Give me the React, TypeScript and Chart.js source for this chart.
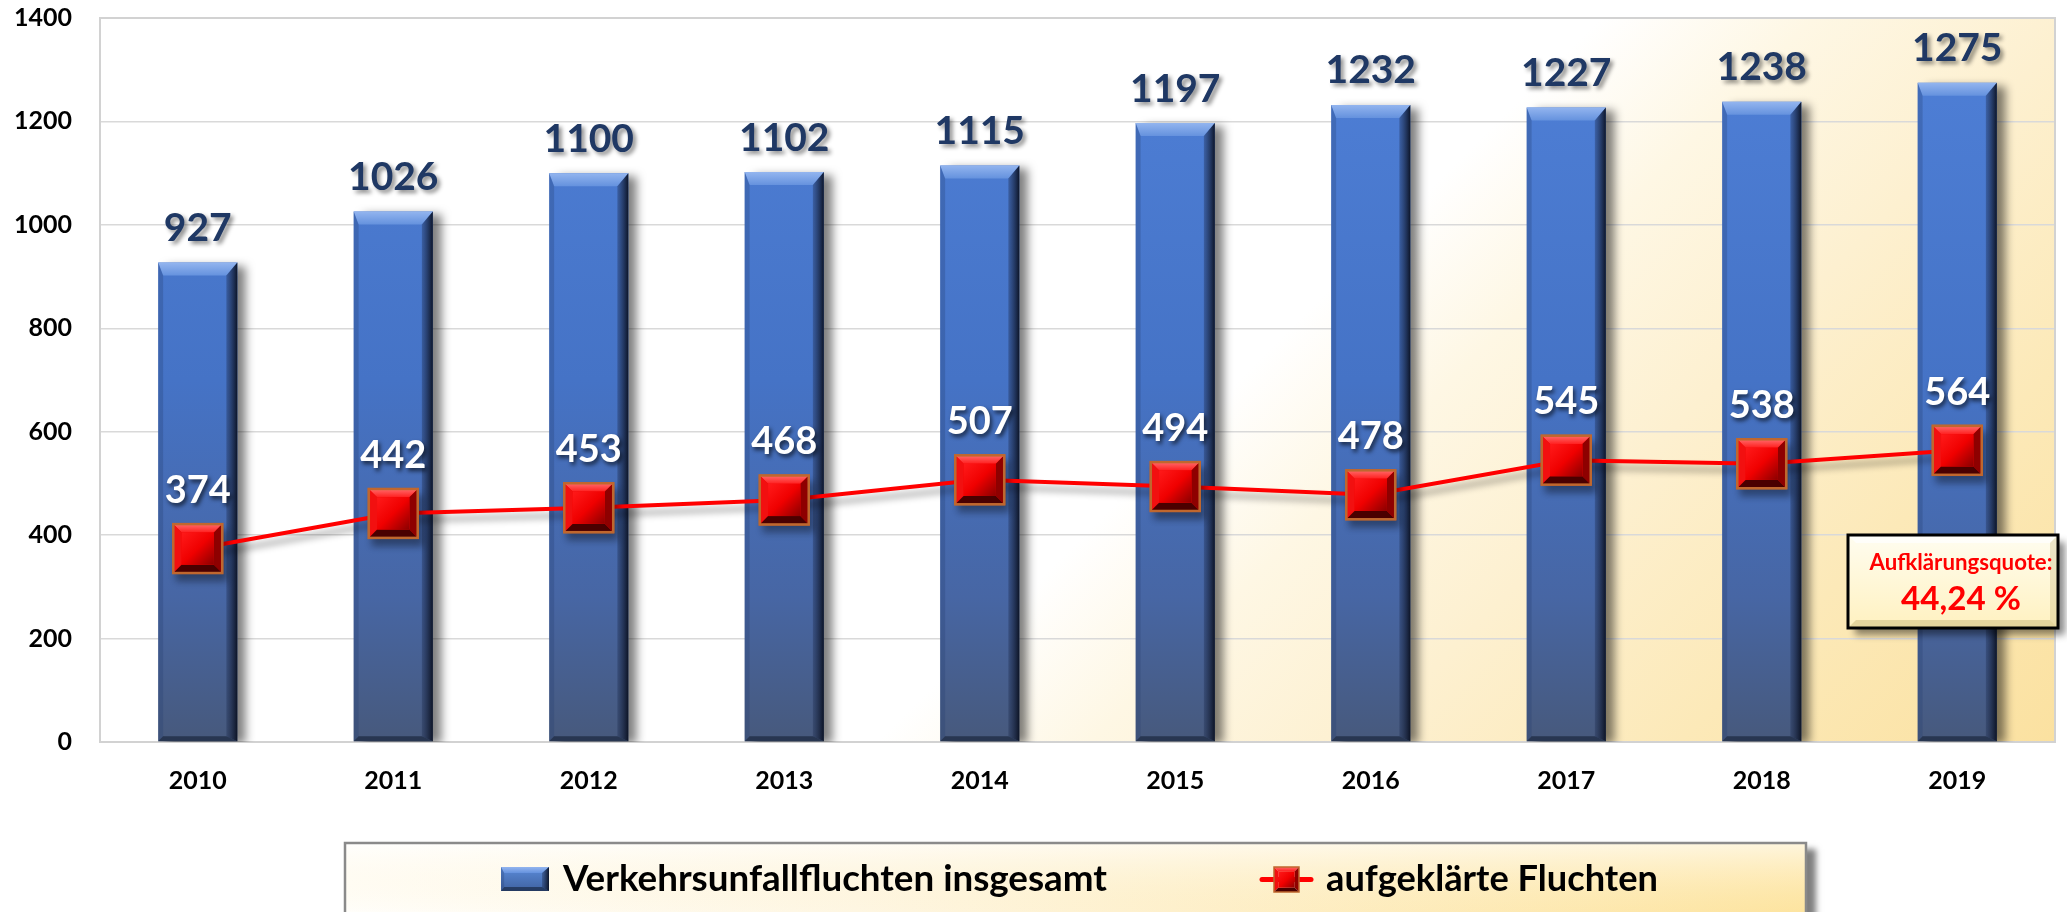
import React, { useEffect, useRef } from "react";
import { Chart, registerables } from "chart.js";

Chart.register(...registerables);

// ---------- data ----------
const years = ["2010", "2011", "2012", "2013", "2014", "2015", "2016", "2017", "2018", "2019"];
const totalValues = [927, 1026, 1100, 1102, 1115, 1197, 1232, 1227, 1238, 1275];
const solvedValues = [374, 442, 453, 468, 507, 494, 478, 545, 538, 564];
const yMin = 0;
const yMax = 1400;
const yStep = 200;
const legendLabels = ["Verkehrsunfallfluchten insgesamt", "aufgeklärte Fluchten"];
const quoteTitle = "Aufklärungsquote:";
const quoteValue = "44,24 %";

const FONT = "Lato, 'Noto Sans', sans-serif";

function fitFont(ctx: CanvasRenderingContext2D, text: string, target: number, base: number) {
  ctx.font = `bold ${base}px ${FONT}`;
  const w = ctx.measureText(text).width;
  const size = w > 0 ? (base * target) / w : base;
  return `bold ${size.toFixed(2)}px ${FONT}`;
}

function shadowText(
  ctx: CanvasRenderingContext2D,
  text: string,
  x: number,
  y: number,
  font: string,
  color: string,
  shadow: string,
  ox: number,
  oy: number,
  blur: number,
  align: CanvasTextAlign = "center"
) {
  ctx.save();
  ctx.font = font;
  ctx.textAlign = align;
  ctx.textBaseline = "middle";
  ctx.shadowColor = shadow;
  ctx.shadowOffsetX = ox;
  ctx.shadowOffsetY = oy;
  ctx.shadowBlur = blur;
  ctx.fillStyle = color;
  ctx.fillText(text, x, y);
  ctx.restore();
}

function bevelBar(ctx: CanvasRenderingContext2D, x0: number, y0: number, x1: number, y1: number, tb: number, sb: number, bb: number) {
  const ls = sb * 0.45;
  ctx.save();
  let g = ctx.createLinearGradient(0, y0, 0, y0 + tb);
  g.addColorStop(0, "#93B5EF");
  g.addColorStop(1, "#6592DE");
  ctx.fillStyle = g;
  ctx.beginPath();
  ctx.moveTo(x0, y0);
  ctx.lineTo(x1, y0);
  ctx.lineTo(x1 - sb, y0 + tb);
  ctx.lineTo(x0 + ls, y0 + tb);
  ctx.closePath();
  ctx.fill();
  ctx.fillStyle = "rgba(35,60,110,0.28)";
  ctx.beginPath();
  ctx.moveTo(x0, y0);
  ctx.lineTo(x0 + ls, y0 + tb);
  ctx.lineTo(x0 + ls, y1 - bb);
  ctx.lineTo(x0, y1);
  ctx.closePath();
  ctx.fill();
  g = ctx.createLinearGradient(x1 - sb, 0, x1, 0);
  g.addColorStop(0, "rgba(30,45,80,0.35)");
  g.addColorStop(1, "rgba(10,16,32,0.95)");
  ctx.fillStyle = g;
  ctx.beginPath();
  ctx.moveTo(x1, y0);
  ctx.lineTo(x1, y1);
  ctx.lineTo(x1 - sb, y1 - bb);
  ctx.lineTo(x1 - sb, y0 + tb);
  ctx.closePath();
  ctx.fill();
  ctx.fillStyle = "rgba(15,25,45,0.55)";
  ctx.beginPath();
  ctx.moveTo(x0, y1);
  ctx.lineTo(x1, y1);
  ctx.lineTo(x1 - sb, y1 - bb);
  ctx.lineTo(x0 + ls, y1 - bb);
  ctx.closePath();
  ctx.fill();
  ctx.restore();
}

function bevelMarker(ctx: CanvasRenderingContext2D, cx: number, cy: number, s: number, lw: number) {
  const h = s / 2;
  const b = s * 0.17;
  const x0 = cx - h, y0 = cy - h, x1 = cx + h, y1 = cy + h;
  ctx.save();
  let g = ctx.createLinearGradient(0, y0, 0, y0 + b);
  g.addColorStop(0, "#FF6A6A");
  g.addColorStop(1, "#FF2020");
  ctx.fillStyle = g;
  ctx.beginPath();
  ctx.moveTo(x0, y0); ctx.lineTo(x1, y0); ctx.lineTo(x1 - b, y0 + b); ctx.lineTo(x0 + b, y0 + b); ctx.closePath(); ctx.fill();
  ctx.fillStyle = "#F21010";
  ctx.beginPath();
  ctx.moveTo(x0, y0); ctx.lineTo(x0 + b, y0 + b); ctx.lineTo(x0 + b, y1 - b); ctx.lineTo(x0, y1); ctx.closePath(); ctx.fill();
  ctx.fillStyle = "#8E0000";
  ctx.beginPath();
  ctx.moveTo(x1, y0); ctx.lineTo(x1, y1); ctx.lineTo(x1 - b, y1 - b); ctx.lineTo(x1 - b, y0 + b); ctx.closePath(); ctx.fill();
  ctx.fillStyle = "#4A0000";
  ctx.beginPath();
  ctx.moveTo(x0, y1); ctx.lineTo(x1, y1); ctx.lineTo(x1 - b, y1 - b); ctx.lineTo(x0 + b, y1 - b); ctx.closePath(); ctx.fill();
  g = ctx.createLinearGradient(x0 + b, y0 + b, x1 - b, y1 - b);
  g.addColorStop(0, "#FF1A1A");
  g.addColorStop(0.5, "#F00000");
  g.addColorStop(1, "#8A0000");
  ctx.fillStyle = g;
  ctx.fillRect(x0 + b, y0 + b, s - 2 * b, s - 2 * b);
  ctx.strokeStyle = "#C0672E";
  ctx.lineWidth = lw;
  ctx.strokeRect(x0, y0, s, s);
  ctx.restore();
}

const decorPlugin = {
  id: "decor",
  beforeDraw(chart: any) {
    const { ctx, chartArea: a, width, height } = chart;
    ctx.save();
    ctx.fillStyle = "#FFFFFF";
    ctx.fillRect(0, 0, width, height);
    const L = (a.right - a.left + (a.bottom - a.top)) / 2;
    const g = ctx.createLinearGradient(a.left, a.top, a.left + L, a.top + L);
    g.addColorStop(0, "#FFFFFF");
    g.addColorStop(0.56, "#FFFFFF");
    g.addColorStop(0.64, "#FEF7E4");
    g.addColorStop(0.74, "#FDF0D0");
    g.addColorStop(0.86, "#FCE9B8");
    g.addColorStop(1, "#FBE1A0");
    ctx.fillStyle = g;
    ctx.fillRect(a.left, a.top, a.right - a.left, a.bottom - a.top);
    ctx.restore();
  },
  beforeDatasetsDraw(chart: any) {
    const { ctx, chartArea: a } = chart;
    ctx.save();
    ctx.strokeStyle = "#D2D2D2";
    ctx.lineWidth = 2;
    ctx.strokeRect(a.left, a.top, a.right - a.left, a.bottom - a.top);
    ctx.restore();
  },
  beforeDatasetDraw(chart: any, args: any) {
    const ctx = chart.ctx;
    ctx.save();
    const type = chart.data.datasets[args.index].type;
    if (type === "bar") {
      ctx.shadowColor = "rgba(0,0,0,0.5)";
      ctx.shadowOffsetX = 9;
      ctx.shadowOffsetY = 3;
      ctx.shadowBlur = 9;
    } else {
      ctx.shadowColor = "rgba(0,0,0,0.38)";
      ctx.shadowOffsetX = 4;
      ctx.shadowOffsetY = 7;
      ctx.shadowBlur = 7;
    }
  },
  afterDatasetDraw(chart: any, args: any) {
    const ctx = chart.ctx;
    ctx.restore();
    const ds = chart.data.datasets[args.index];
    const meta = chart.getDatasetMeta(args.index);
    if (ds.type === "bar") {
      meta.data.forEach((el: any) => {
        const x0 = el.x - el.width / 2;
        const x1 = el.x + el.width / 2;
        bevelBar(ctx, x0, el.y, x1, el.base, 13, 11, 5);
      });
    } else {
      const s = 2 * Math.SQRT1_2 * ds.pointRadius;
      meta.data.forEach((el: any) => bevelMarker(ctx, el.x, el.y, s, 2.5));
    }
  },
  afterDraw(chart: any) {
    const ctx: CanvasRenderingContext2D = chart.ctx;
    const barIdx = chart.data.datasets.findIndex((d: any) => d.type === "bar");
    const lineIdx = chart.data.datasets.findIndex((d: any) => d.type === "line");
    const barMeta = chart.getDatasetMeta(barIdx);
    const lineMeta = chart.getDatasetMeta(lineIdx);

    barMeta.data.forEach((el: any, i: number) => {
      shadowText(ctx, String(chart.data.datasets[barIdx].data[i]), el.x, el.y - 34,
        `bold 39px ${FONT}`, "#1F3864", "rgba(0,0,0,0.45)", 3, 3, 4);
    });
    lineMeta.data.forEach((el: any, i: number) => {
      shadowText(ctx, String(chart.data.datasets[lineIdx].data[i]), el.x, el.y - 58,
        `bold 38px ${FONT}`, "#FFFFFF", "rgba(0,0,0,0.65)", 2, 3, 4);
    });

    // annotation box
    {
      const x0 = 1848, y0 = 535, w = 210, h = 93;
      ctx.save();
      ctx.shadowColor = "rgba(0,0,0,0.45)";
      ctx.shadowOffsetX = 7;
      ctx.shadowOffsetY = 7;
      ctx.shadowBlur = 7;
      const g = ctx.createLinearGradient(0, y0, 0, y0 + h);
      g.addColorStop(0, "#FFFDF0");
      g.addColorStop(1, "#FFF1C0");
      ctx.fillStyle = g;
      ctx.fillRect(x0, y0, w, h);
      ctx.restore();
      ctx.save();
      const b = 8;
      ctx.fillStyle = "rgba(255,255,255,0.7)";
      ctx.beginPath();
      ctx.moveTo(x0, y0); ctx.lineTo(x0 + w, y0); ctx.lineTo(x0 + w - b, y0 + b); ctx.lineTo(x0 + b, y0 + b); ctx.closePath(); ctx.fill();
      ctx.fillStyle = "rgba(180,160,90,0.35)";
      ctx.beginPath();
      ctx.moveTo(x0, y0 + h); ctx.lineTo(x0 + w, y0 + h); ctx.lineTo(x0 + w - b, y0 + h - b); ctx.lineTo(x0 + b, y0 + h - b); ctx.closePath(); ctx.fill();
      ctx.fillStyle = "rgba(180,160,90,0.25)";
      ctx.beginPath();
      ctx.moveTo(x0 + w, y0); ctx.lineTo(x0 + w, y0 + h); ctx.lineTo(x0 + w - b, y0 + h - b); ctx.lineTo(x0 + w - b, y0 + b); ctx.closePath(); ctx.fill();
      ctx.strokeStyle = "#000000";
      ctx.lineWidth = 3;
      ctx.strokeRect(x0, y0, w, h);
      ctx.restore();
      const cx = 1961;
      shadowText(ctx, quoteTitle, cx, 563, fitFont(ctx, quoteTitle, 183, 21), "#FF0000", "rgba(0,0,0,0)", 0, 0, 0);
      shadowText(ctx, quoteValue, cx, 599, fitFont(ctx, quoteValue, 120, 36), "#FF0000", "rgba(0,0,0,0)", 0, 0, 0);
    }

    // legend box
    {
      const x0 = 345, y0 = 843, w = 1461, h = 100;
      ctx.save();
      ctx.shadowColor = "rgba(0,0,0,0.5)";
      ctx.shadowOffsetX = 10;
      ctx.shadowOffsetY = 6;
      ctx.shadowBlur = 6;
      const g = ctx.createLinearGradient(x0, 0, x0 + w, 0);
      g.addColorStop(0, "#FFFEFA");
      g.addColorStop(0.35, "#FEF6E2");
      g.addColorStop(1, "#FDE4A0");
      ctx.fillStyle = g;
      ctx.fillRect(x0, y0, w, h);
      ctx.restore();
      ctx.save();
      const gv = ctx.createLinearGradient(0, y0, 0, 912);
      gv.addColorStop(0, "rgba(255,255,255,0.65)");
      gv.addColorStop(1, "rgba(255,240,200,0)");
      ctx.fillStyle = gv;
      ctx.fillRect(x0, y0, w, h);
      ctx.strokeStyle = "#8A8A8A";
      ctx.lineWidth = 2.5;
      ctx.strokeRect(x0, y0, w, h);
      ctx.restore();

      ctx.save();
      const bg = ctx.createLinearGradient(0, 867, 0, 891);
      bg.addColorStop(0, "#5A8AD8");
      bg.addColorStop(1, "#3F62A0");
      ctx.fillStyle = bg;
      ctx.fillRect(501, 867, 48, 24);
      ctx.restore();
      bevelBar(ctx, 501, 867, 549, 891, 6, 7, 4);
      shadowText(ctx, legendLabels[0], 563, 879, fitFont(ctx, legendLabels[0], 544, 34), "#000000",
        "rgba(0,0,0,0)", 0, 0, 0, "left");

      ctx.save();
      ctx.strokeStyle = "#FF0000";
      ctx.lineWidth = 5;
      ctx.lineCap = "round";
      ctx.beginPath();
      ctx.moveTo(1262, 879.5);
      ctx.lineTo(1311, 879.5);
      ctx.stroke();
      ctx.restore();
      bevelMarker(ctx, 1286.5, 879.5, 25, 1.5);
      shadowText(ctx, legendLabels[1], 1326, 879, fitFont(ctx, legendLabels[1], 332, 34), "#000000",
        "rgba(0,0,0,0)", 0, 0, 0, "left");
    }
  },
};

export default function App() {
  const canvasRef = useRef<HTMLCanvasElement | null>(null);

  useEffect(() => {
    const canvas = canvasRef.current;
    if (!canvas) return;
    const chart = new Chart(canvas, {
      type: "bar",
      data: {
        labels: years,
        datasets: [
          {
            type: "line",
            label: legendLabels[1],
            data: solvedValues,
            borderColor: "#FF0000",
            borderWidth: 4,
            pointStyle: "rect",
            pointRadius: 34.6,
            pointHoverRadius: 34.6,
            pointBackgroundColor: "#FF0000",
            pointBorderColor: "#C0672E",
            pointBorderWidth: 2,
            tension: 0,
            order: 0,
          } as any,
          {
            type: "bar",
            label: legendLabels[0],
            data: totalValues,
            backgroundColor: (c: any) => {
              const a = c.chart.chartArea;
              if (!a) return "#4472C4";
              const g = c.chart.ctx.createLinearGradient(0, a.top, 0, a.bottom);
              g.addColorStop(0, "#4F80D8");
              g.addColorStop(0.5, "#4573C6");
              g.addColorStop(0.8, "#4766A4");
              g.addColorStop(1, "#47597C");
              return g;
            },
            borderWidth: 0,
            barPercentage: 0.405,
            categoryPercentage: 1,
            order: 1,
          } as any,
        ],
      },
      options: {
        responsive: false,
        animation: false,
        devicePixelRatio: 1,
        events: [],
        layout: { autoPadding: false, padding: { left: 0, right: 12, top: 18, bottom: 0 } },
        plugins: {
          legend: { display: false },
          tooltip: { enabled: false },
          title: { display: false },
        },
        scales: {
          x: {
            grid: { display: false, drawTicks: false },
            border: { display: false },
            ticks: {
              color: "#000000",
              padding: 24,
              font: { family: FONT, size: 25, weight: "bold" },
              maxRotation: 0,
            },
            afterFit: (s: any) => {
              s.height = 170;
            },
          },
          y: {
            min: yMin,
            max: yMax,
            grid: { color: "#D9D9D9", lineWidth: 1.5, drawTicks: false },
            border: { display: false },
            ticks: {
              stepSize: yStep,
              color: "#000000",
              padding: 28,
              font: { family: FONT, size: 25, weight: "bold" },
              callback: (v: any) => String(v),
            },
            afterFit: (s: any) => {
              s.width = 100;
              s.paddingTop = 15;
              s.paddingBottom = 15;
            },
          },
        },
      } as any,
      plugins: [decorPlugin as any],
    });
    return () => chart.destroy();
  }, []);

  return (
    <div style={{ position: "absolute", left: 0, top: 0, width: 2067, height: 912, background: "#FFFFFF" }}>
      <canvas ref={canvasRef} width={2067} height={912} style={{ display: "block", width: 2067, height: 912 }} />
    </div>
  );
}
